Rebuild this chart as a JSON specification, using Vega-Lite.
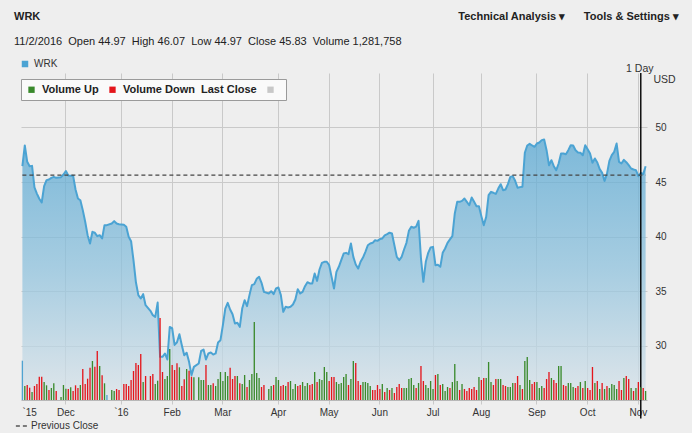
{
  "$schema": "https://vega.github.io/schema/vega-lite/v6.json",
  "autosize": {"type": "none"},
  "width": 626,
  "height": 327,
  "padding": {"left": 21, "top": 73, "right": 45, "bottom": 33},
  "background": "#eeeeee",
  "config": {"font": "Liberation Sans", "view": {"stroke": null}},
  "title": {
    "text": "WRK\u2003\u2003\u2003\u2003\u2003\u2003\u2003\u2003\u2003\u2003\u2003\u2003\u2003\u2003\u2003\u2003\u2003\u2003\u2003\u2003\u2003\u2003\u2003\u2003\u2003\u2003\u2003\u2003\u2003\u2003\u2003\u2003\u2003\u2003\u2003\u2003\u2003\u2003Technical Analysis \u25BE\u2003\u2002\u2009Tools & Settings \u25BE",
    "subtitle": "11/2/2016\u00a0\u00a0Open 44.97\u00a0\u00a0High 46.07\u00a0\u00a0Low 44.97\u00a0\u00a0Close 45.83\u00a0\u00a0Volume 1,281,758",
    "anchor": "start",
    "frame": "group",
    "dx": -7,
    "offset": 12,
    "font": "Liberation Sans",
    "fontSize": 11,
    "fontWeight": "bold",
    "color": "#222222",
    "subtitleFont": "Liberation Sans",
    "subtitleFontSize": 11,
    "subtitleColor": "#222222",
    "subtitlePadding": 14
  },
  "data": {"values": [
    {"date":"2015-11-05","close":46.45,"volume":3.93,"dir":"Unchanged"},
    {"date":"2015-11-06","close":48.35,"volume":1.40,"dir":"Volume Up"},
    {"date":"2015-11-09","close":46.85,"volume":1.50,"dir":"Volume Down"},
    {"date":"2015-11-10","close":46.45,"volume":1.23,"dir":"Volume Down"},
    {"date":"2015-11-11","close":46.48,"volume":0.80,"dir":"Volume Up"},
    {"date":"2015-11-12","close":44.50,"volume":1.40,"dir":"Volume Down"},
    {"date":"2015-11-13","close":43.94,"volume":1.60,"dir":"Volume Down"},
    {"date":"2015-11-16","close":43.46,"volume":2.33,"dir":"Volume Down"},
    {"date":"2015-11-17","close":43.12,"volume":2.33,"dir":"Volume Down"},
    {"date":"2015-11-18","close":44.62,"volume":1.80,"dir":"Volume Up"},
    {"date":"2015-11-19","close":45.17,"volume":1.47,"dir":"Volume Up"},
    {"date":"2015-11-20","close":45.23,"volume":1.00,"dir":"Volume Down"},
    {"date":"2015-11-23","close":45.38,"volume":1.20,"dir":"Volume Up"},
    {"date":"2015-11-24","close":45.47,"volume":1.67,"dir":"Volume Up"},
    {"date":"2015-11-25","close":45.38,"volume":0.90,"dir":"Volume Down"},
    {"date":"2015-11-27","close":45.44,"volume":0.30,"dir":"Volume Up"},
    {"date":"2015-11-30","close":45.69,"volume":1.50,"dir":"Volume Up"},
    {"date":"2015-12-01","close":46.00,"volume":1.13,"dir":"Volume Up"},
    {"date":"2015-12-02","close":45.60,"volume":1.10,"dir":"Volume Down"},
    {"date":"2015-12-03","close":45.57,"volume":1.27,"dir":"Volume Up"},
    {"date":"2015-12-04","close":45.57,"volume":0.90,"dir":"Volume Down"},
    {"date":"2015-12-07","close":44.31,"volume":1.47,"dir":"Volume Down"},
    {"date":"2015-12-08","close":43.49,"volume":1.20,"dir":"Volume Down"},
    {"date":"2015-12-09","close":43.33,"volume":1.50,"dir":"Volume Up"},
    {"date":"2015-12-10","close":42.42,"volume":3.10,"dir":"Volume Down"},
    {"date":"2015-12-11","close":41.35,"volume":1.60,"dir":"Volume Down"},
    {"date":"2015-12-14","close":40.12,"volume":2.13,"dir":"Volume Down"},
    {"date":"2015-12-15","close":39.36,"volume":3.23,"dir":"Volume Down"},
    {"date":"2015-12-16","close":40.43,"volume":3.90,"dir":"Volume Up"},
    {"date":"2015-12-17","close":40.34,"volume":3.33,"dir":"Volume Down"},
    {"date":"2015-12-18","close":40.03,"volume":4.90,"dir":"Volume Down"},
    {"date":"2015-12-21","close":40.12,"volume":3.40,"dir":"Volume Up"},
    {"date":"2015-12-22","close":39.82,"volume":2.47,"dir":"Volume Down"},
    {"date":"2015-12-23","close":41.04,"volume":1.67,"dir":"Volume Up"},
    {"date":"2015-12-24","close":41.04,"volume":0.50,"dir":"Unchanged"},
    {"date":"2015-12-28","close":41.19,"volume":1.00,"dir":"Volume Up"},
    {"date":"2015-12-29","close":41.41,"volume":0.90,"dir":"Volume Up"},
    {"date":"2015-12-30","close":41.19,"volume":1.10,"dir":"Volume Down"},
    {"date":"2015-12-31","close":41.13,"volume":1.00,"dir":"Volume Down"},
    {"date":"2016-01-04","close":41.07,"volume":1.60,"dir":"Volume Down"},
    {"date":"2016-01-05","close":40.89,"volume":1.60,"dir":"Volume Down"},
    {"date":"2016-01-06","close":39.97,"volume":1.40,"dir":"Volume Down"},
    {"date":"2016-01-07","close":39.57,"volume":2.00,"dir":"Volume Down"},
    {"date":"2016-01-08","close":37.80,"volume":2.90,"dir":"Volume Down"},
    {"date":"2016-01-11","close":35.80,"volume":3.70,"dir":"Volume Down"},
    {"date":"2016-01-12","close":34.62,"volume":3.50,"dir":"Volume Down"},
    {"date":"2016-01-13","close":34.31,"volume":4.60,"dir":"Volume Down"},
    {"date":"2016-01-14","close":34.71,"volume":1.80,"dir":"Volume Up"},
    {"date":"2016-01-15","close":33.70,"volume":2.40,"dir":"Volume Down"},
    {"date":"2016-01-19","close":33.18,"volume":2.40,"dir":"Volume Down"},
    {"date":"2016-01-20","close":32.78,"volume":2.60,"dir":"Volume Down"},
    {"date":"2016-01-21","close":32.63,"volume":1.60,"dir":"Volume Up"},
    {"date":"2016-01-22","close":33.94,"volume":1.93,"dir":"Volume Up"},
    {"date":"2016-01-25","close":28.96,"volume":8.20,"dir":"Volume Down"},
    {"date":"2016-01-26","close":28.96,"volume":2.80,"dir":"Volume Down"},
    {"date":"2016-01-27","close":29.27,"volume":2.10,"dir":"Volume Up"},
    {"date":"2016-01-28","close":28.72,"volume":2.40,"dir":"Volume Up"},
    {"date":"2016-01-29","close":31.70,"volume":5.10,"dir":"Volume Up"},
    {"date":"2016-02-01","close":31.60,"volume":3.50,"dir":"Volume Down"},
    {"date":"2016-02-02","close":30.05,"volume":3.00,"dir":"Volume Down"},
    {"date":"2016-02-03","close":30.30,"volume":3.67,"dir":"Volume Down"},
    {"date":"2016-02-04","close":31.04,"volume":3.27,"dir":"Volume Up"},
    {"date":"2016-02-05","close":30.03,"volume":1.40,"dir":"Volume Down"},
    {"date":"2016-02-08","close":29.11,"volume":2.07,"dir":"Volume Down"},
    {"date":"2016-02-09","close":29.33,"volume":3.10,"dir":"Volume Up"},
    {"date":"2016-02-10","close":28.50,"volume":2.93,"dir":"Volume Down"},
    {"date":"2016-02-11","close":27.28,"volume":2.33,"dir":"Volume Down"},
    {"date":"2016-02-12","close":28.04,"volume":2.27,"dir":"Volume Up"},
    {"date":"2016-02-16","close":28.35,"volume":2.27,"dir":"Volume Up"},
    {"date":"2016-02-17","close":29.51,"volume":2.00,"dir":"Volume Up"},
    {"date":"2016-02-18","close":29.63,"volume":2.00,"dir":"Volume Up"},
    {"date":"2016-02-19","close":28.72,"volume":3.50,"dir":"Volume Down"},
    {"date":"2016-02-22","close":29.27,"volume":1.50,"dir":"Volume Up"},
    {"date":"2016-02-23","close":29.36,"volume":1.50,"dir":"Volume Up"},
    {"date":"2016-02-24","close":29.17,"volume":1.67,"dir":"Volume Down"},
    {"date":"2016-02-25","close":29.27,"volume":1.40,"dir":"Volume Up"},
    {"date":"2016-02-26","close":30.28,"volume":2.10,"dir":"Volume Up"},
    {"date":"2016-02-29","close":30.49,"volume":2.80,"dir":"Volume Up"},
    {"date":"2016-03-01","close":31.87,"volume":1.90,"dir":"Volume Up"},
    {"date":"2016-03-02","close":33.39,"volume":2.80,"dir":"Volume Up"},
    {"date":"2016-03-03","close":33.91,"volume":2.40,"dir":"Volume Up"},
    {"date":"2016-03-04","close":33.30,"volume":3.23,"dir":"Volume Down"},
    {"date":"2016-03-07","close":32.87,"volume":2.10,"dir":"Volume Down"},
    {"date":"2016-03-08","close":32.02,"volume":2.40,"dir":"Volume Down"},
    {"date":"2016-03-09","close":32.08,"volume":2.40,"dir":"Volume Up"},
    {"date":"2016-03-10","close":31.71,"volume":1.67,"dir":"Volume Down"},
    {"date":"2016-03-11","close":33.39,"volume":1.60,"dir":"Volume Up"},
    {"date":"2016-03-14","close":34.16,"volume":2.50,"dir":"Volume Up"},
    {"date":"2016-03-15","close":33.61,"volume":1.30,"dir":"Volume Down"},
    {"date":"2016-03-16","close":34.62,"volume":2.00,"dir":"Volume Up"},
    {"date":"2016-03-17","close":35.54,"volume":2.60,"dir":"Volume Up"},
    {"date":"2016-03-18","close":35.63,"volume":7.80,"dir":"Volume Up"},
    {"date":"2016-03-21","close":36.12,"volume":2.70,"dir":"Volume Up"},
    {"date":"2016-03-22","close":36.30,"volume":2.20,"dir":"Volume Up"},
    {"date":"2016-03-23","close":35.75,"volume":1.30,"dir":"Volume Down"},
    {"date":"2016-03-24","close":34.92,"volume":1.50,"dir":"Volume Down"},
    {"date":"2016-03-28","close":34.77,"volume":1.10,"dir":"Volume Up"},
    {"date":"2016-03-29","close":34.98,"volume":1.40,"dir":"Volume Up"},
    {"date":"2016-03-30","close":34.71,"volume":1.50,"dir":"Volume Down"},
    {"date":"2016-03-31","close":35.23,"volume":2.30,"dir":"Volume Up"},
    {"date":"2016-04-01","close":35.32,"volume":2.00,"dir":"Volume Up"},
    {"date":"2016-04-04","close":34.62,"volume":1.40,"dir":"Volume Down"},
    {"date":"2016-04-05","close":33.09,"volume":1.50,"dir":"Volume Down"},
    {"date":"2016-04-06","close":33.55,"volume":1.40,"dir":"Volume Up"},
    {"date":"2016-04-07","close":33.49,"volume":1.80,"dir":"Volume Down"},
    {"date":"2016-04-08","close":33.55,"volume":1.90,"dir":"Volume Up"},
    {"date":"2016-04-11","close":33.76,"volume":1.10,"dir":"Volume Up"},
    {"date":"2016-04-12","close":34.22,"volume":1.60,"dir":"Volume Up"},
    {"date":"2016-04-13","close":35.17,"volume":1.40,"dir":"Volume Down"},
    {"date":"2016-04-14","close":34.77,"volume":1.50,"dir":"Volume Down"},
    {"date":"2016-04-15","close":34.92,"volume":1.80,"dir":"Volume Up"},
    {"date":"2016-04-18","close":35.44,"volume":1.40,"dir":"Volume Up"},
    {"date":"2016-04-19","close":35.81,"volume":1.70,"dir":"Volume Up"},
    {"date":"2016-04-20","close":35.69,"volume":1.50,"dir":"Volume Down"},
    {"date":"2016-04-21","close":35.69,"volume":1.60,"dir":"Volume Down"},
    {"date":"2016-04-22","close":36.61,"volume":2.80,"dir":"Volume Up"},
    {"date":"2016-04-25","close":35.93,"volume":1.80,"dir":"Volume Down"},
    {"date":"2016-04-26","close":36.97,"volume":2.10,"dir":"Volume Up"},
    {"date":"2016-04-27","close":37.58,"volume":2.00,"dir":"Volume Up"},
    {"date":"2016-04-28","close":37.68,"volume":3.30,"dir":"Volume Up"},
    {"date":"2016-04-29","close":37.68,"volume":2.80,"dir":"Volume Up"},
    {"date":"2016-05-02","close":37.37,"volume":1.90,"dir":"Volume Down"},
    {"date":"2016-05-03","close":36.30,"volume":2.30,"dir":"Volume Down"},
    {"date":"2016-05-04","close":35.23,"volume":2.30,"dir":"Volume Down"},
    {"date":"2016-05-05","close":36.76,"volume":1.80,"dir":"Volume Up"},
    {"date":"2016-05-06","close":37.22,"volume":1.60,"dir":"Volume Up"},
    {"date":"2016-05-09","close":37.83,"volume":1.70,"dir":"Volume Up"},
    {"date":"2016-05-10","close":38.44,"volume":2.30,"dir":"Volume Up"},
    {"date":"2016-05-11","close":38.50,"volume":2.60,"dir":"Volume Up"},
    {"date":"2016-05-12","close":38.38,"volume":1.50,"dir":"Volume Down"},
    {"date":"2016-05-13","close":39.36,"volume":2.10,"dir":"Volume Up"},
    {"date":"2016-05-16","close":38.13,"volume":3.90,"dir":"Volume Up"},
    {"date":"2016-05-17","close":37.43,"volume":3.70,"dir":"Volume Down"},
    {"date":"2016-05-18","close":37.06,"volume":1.90,"dir":"Volume Down"},
    {"date":"2016-05-19","close":37.68,"volume":1.50,"dir":"Volume Down"},
    {"date":"2016-05-20","close":38.07,"volume":1.80,"dir":"Volume Up"},
    {"date":"2016-05-23","close":38.59,"volume":1.80,"dir":"Volume Up"},
    {"date":"2016-05-24","close":39.20,"volume":1.70,"dir":"Volume Up"},
    {"date":"2016-05-25","close":39.36,"volume":1.40,"dir":"Volume Up"},
    {"date":"2016-05-26","close":39.42,"volume":1.00,"dir":"Volume Down"},
    {"date":"2016-05-27","close":39.66,"volume":1.00,"dir":"Volume Down"},
    {"date":"2016-05-31","close":39.60,"volume":1.50,"dir":"Volume Down"},
    {"date":"2016-06-01","close":39.76,"volume":1.10,"dir":"Volume Down"},
    {"date":"2016-06-02","close":39.82,"volume":1.60,"dir":"Volume Up"},
    {"date":"2016-06-03","close":40.10,"volume":0.80,"dir":"Volume Down"},
    {"date":"2016-06-06","close":40.21,"volume":1.20,"dir":"Volume Up"},
    {"date":"2016-06-07","close":40.35,"volume":1.00,"dir":"Volume Down"},
    {"date":"2016-06-08","close":40.28,"volume":1.20,"dir":"Volume Up"},
    {"date":"2016-06-09","close":39.20,"volume":0.70,"dir":"Volume Down"},
    {"date":"2016-06-10","close":38.13,"volume":1.30,"dir":"Volume Down"},
    {"date":"2016-06-13","close":37.83,"volume":1.60,"dir":"Volume Down"},
    {"date":"2016-06-14","close":38.13,"volume":1.20,"dir":"Volume Down"},
    {"date":"2016-06-15","close":38.81,"volume":1.20,"dir":"Volume Up"},
    {"date":"2016-06-16","close":39.42,"volume":1.20,"dir":"Volume Up"},
    {"date":"2016-06-17","close":40.52,"volume":2.10,"dir":"Volume Up"},
    {"date":"2016-06-20","close":40.89,"volume":2.20,"dir":"Volume Up"},
    {"date":"2016-06-21","close":40.80,"volume":1.50,"dir":"Volume Up"},
    {"date":"2016-06-22","close":40.90,"volume":1.20,"dir":"Volume Down"},
    {"date":"2016-06-23","close":41.44,"volume":1.70,"dir":"Volume Up"},
    {"date":"2016-06-24","close":38.00,"volume":3.40,"dir":"Volume Down"},
    {"date":"2016-06-27","close":35.84,"volume":1.90,"dir":"Volume Down"},
    {"date":"2016-06-28","close":37.68,"volume":1.50,"dir":"Volume Up"},
    {"date":"2016-06-29","close":38.50,"volume":1.20,"dir":"Volume Up"},
    {"date":"2016-06-30","close":38.99,"volume":1.90,"dir":"Volume Up"},
    {"date":"2016-07-01","close":39.05,"volume":1.10,"dir":"Volume Up"},
    {"date":"2016-07-05","close":37.37,"volume":2.50,"dir":"Volume Down"},
    {"date":"2016-07-06","close":37.40,"volume":2.60,"dir":"Volume Up"},
    {"date":"2016-07-07","close":37.22,"volume":1.50,"dir":"Volume Down"},
    {"date":"2016-07-08","close":38.50,"volume":1.60,"dir":"Volume Up"},
    {"date":"2016-07-11","close":38.90,"volume":0.90,"dir":"Volume Up"},
    {"date":"2016-07-12","close":39.42,"volume":1.30,"dir":"Volume Up"},
    {"date":"2016-07-13","close":39.73,"volume":1.20,"dir":"Volume Down"},
    {"date":"2016-07-14","close":40.03,"volume":1.80,"dir":"Volume Up"},
    {"date":"2016-07-15","close":42.11,"volume":3.60,"dir":"Volume Up"},
    {"date":"2016-07-18","close":43.18,"volume":1.90,"dir":"Volume Up"},
    {"date":"2016-07-19","close":43.18,"volume":1.00,"dir":"Volume Down"},
    {"date":"2016-07-20","close":43.27,"volume":1.60,"dir":"Volume Up"},
    {"date":"2016-07-21","close":43.49,"volume":1.10,"dir":"Volume Down"},
    {"date":"2016-07-22","close":43.18,"volume":0.90,"dir":"Volume Down"},
    {"date":"2016-07-25","close":42.87,"volume":1.20,"dir":"Volume Down"},
    {"date":"2016-07-26","close":43.58,"volume":1.10,"dir":"Volume Down"},
    {"date":"2016-07-27","close":43.18,"volume":1.30,"dir":"Volume Down"},
    {"date":"2016-07-28","close":42.78,"volume":1.00,"dir":"Volume Down"},
    {"date":"2016-07-29","close":42.78,"volume":2.30,"dir":"Volume Up"},
    {"date":"2016-08-01","close":41.87,"volume":2.00,"dir":"Volume Down"},
    {"date":"2016-08-02","close":41.04,"volume":2.20,"dir":"Volume Down"},
    {"date":"2016-08-03","close":41.80,"volume":2.20,"dir":"Volume Up"},
    {"date":"2016-08-04","close":43.80,"volume":3.80,"dir":"Volume Up"},
    {"date":"2016-08-05","close":44.10,"volume":1.80,"dir":"Volume Up"},
    {"date":"2016-08-08","close":44.01,"volume":1.50,"dir":"Volume Down"},
    {"date":"2016-08-09","close":43.91,"volume":2.10,"dir":"Volume Down"},
    {"date":"2016-08-10","close":44.40,"volume":2.10,"dir":"Volume Up"},
    {"date":"2016-08-11","close":44.80,"volume":2.10,"dir":"Volume Up"},
    {"date":"2016-08-12","close":44.25,"volume":1.50,"dir":"Volume Down"},
    {"date":"2016-08-15","close":44.31,"volume":1.40,"dir":"Volume Down"},
    {"date":"2016-08-16","close":44.80,"volume":1.30,"dir":"Volume Up"},
    {"date":"2016-08-17","close":45.47,"volume":1.30,"dir":"Volume Up"},
    {"date":"2016-08-18","close":45.53,"volume":1.70,"dir":"Volume Up"},
    {"date":"2016-08-19","close":45.11,"volume":1.70,"dir":"Volume Down"},
    {"date":"2016-08-22","close":44.47,"volume":2.40,"dir":"Volume Down"},
    {"date":"2016-08-23","close":44.53,"volume":1.50,"dir":"Volume Up"},
    {"date":"2016-08-24","close":44.56,"volume":1.10,"dir":"Volume Down"},
    {"date":"2016-08-25","close":47.68,"volume":3.90,"dir":"Volume Up"},
    {"date":"2016-08-26","close":48.35,"volume":4.30,"dir":"Volume Up"},
    {"date":"2016-08-29","close":48.50,"volume":2.00,"dir":"Volume Up"},
    {"date":"2016-08-30","close":48.35,"volume":1.60,"dir":"Volume Down"},
    {"date":"2016-08-31","close":48.23,"volume":1.80,"dir":"Volume Down"},
    {"date":"2016-09-01","close":48.53,"volume":1.80,"dir":"Volume Up"},
    {"date":"2016-09-02","close":48.62,"volume":1.20,"dir":"Volume Up"},
    {"date":"2016-09-06","close":48.84,"volume":1.40,"dir":"Volume Up"},
    {"date":"2016-09-07","close":48.90,"volume":1.20,"dir":"Volume Down"},
    {"date":"2016-09-08","close":47.92,"volume":2.10,"dir":"Volume Down"},
    {"date":"2016-09-09","close":46.54,"volume":2.80,"dir":"Volume Down"},
    {"date":"2016-09-12","close":47.00,"volume":2.20,"dir":"Volume Up"},
    {"date":"2016-09-13","close":46.45,"volume":2.00,"dir":"Volume Down"},
    {"date":"2016-09-14","close":46.09,"volume":1.70,"dir":"Volume Down"},
    {"date":"2016-09-15","close":46.70,"volume":3.40,"dir":"Volume Up"},
    {"date":"2016-09-16","close":47.61,"volume":3.40,"dir":"Volume Up"},
    {"date":"2016-09-19","close":47.61,"volume":1.50,"dir":"Volume Down"},
    {"date":"2016-09-20","close":47.55,"volume":1.40,"dir":"Volume Down"},
    {"date":"2016-09-21","close":47.92,"volume":1.70,"dir":"Volume Up"},
    {"date":"2016-09-22","close":48.38,"volume":1.70,"dir":"Volume Up"},
    {"date":"2016-09-23","close":48.35,"volume":1.30,"dir":"Volume Up"},
    {"date":"2016-09-26","close":47.92,"volume":1.20,"dir":"Volume Down"},
    {"date":"2016-09-27","close":47.71,"volume":1.40,"dir":"Volume Down"},
    {"date":"2016-09-28","close":47.68,"volume":1.80,"dir":"Volume Up"},
    {"date":"2016-09-29","close":47.46,"volume":1.20,"dir":"Volume Down"},
    {"date":"2016-09-30","close":48.38,"volume":1.90,"dir":"Volume Up"},
    {"date":"2016-10-03","close":48.01,"volume":1.20,"dir":"Volume Down"},
    {"date":"2016-10-04","close":47.61,"volume":1.00,"dir":"Volume Down"},
    {"date":"2016-10-05","close":46.76,"volume":3.30,"dir":"Volume Down"},
    {"date":"2016-10-06","close":47.16,"volume":1.70,"dir":"Volume Up"},
    {"date":"2016-10-07","close":46.79,"volume":1.90,"dir":"Volume Down"},
    {"date":"2016-10-10","close":46.18,"volume":1.10,"dir":"Volume Up"},
    {"date":"2016-10-11","close":45.84,"volume":1.70,"dir":"Volume Down"},
    {"date":"2016-10-12","close":45.10,"volume":1.10,"dir":"Volume Up"},
    {"date":"2016-10-13","close":45.75,"volume":1.40,"dir":"Volume Down"},
    {"date":"2016-10-14","close":46.94,"volume":1.20,"dir":"Volume Up"},
    {"date":"2016-10-17","close":47.46,"volume":1.60,"dir":"Volume Up"},
    {"date":"2016-10-18","close":47.77,"volume":1.50,"dir":"Volume Up"},
    {"date":"2016-10-19","close":48.53,"volume":1.10,"dir":"Volume Up"},
    {"date":"2016-10-20","close":46.85,"volume":1.90,"dir":"Volume Down"},
    {"date":"2016-10-21","close":46.70,"volume":1.00,"dir":"Volume Down"},
    {"date":"2016-10-24","close":47.03,"volume":2.20,"dir":"Volume Up"},
    {"date":"2016-10-25","close":46.82,"volume":2.40,"dir":"Volume Down"},
    {"date":"2016-10-26","close":46.54,"volume":2.10,"dir":"Volume Down"},
    {"date":"2016-10-27","close":46.24,"volume":1.20,"dir":"Volume Up"},
    {"date":"2016-10-28","close":46.15,"volume":0.90,"dir":"Volume Down"},
    {"date":"2016-10-31","close":46.09,"volume":1.20,"dir":"Volume Up"},
    {"date":"2016-11-01","close":45.53,"volume":1.80,"dir":"Volume Down"},
    {"date":"2016-11-02","close":45.83,"volume":1.28,"dir":"Volume Up"},
    {"date":"2016-11-03","close":45.72,"volume":1.20,"dir":"Volume Down"},
    {"date":"2016-11-04","close":46.45,"volume":0.90,"dir":"Volume Up"}
  ]},
  "encoding": {
    "x": {
      "field": "date",
      "type": "ordinal",
      "title": null,
      "scale": {
        "paddingInner": 0.45,
        "paddingOuter": 0.3,
        "domain": ["2015-11-05","2015-11-06","2015-11-09","2015-11-10","2015-11-11","2015-11-12","2015-11-13","2015-11-16","2015-11-17","2015-11-18","2015-11-19","2015-11-20","2015-11-23","2015-11-24","2015-11-25","2015-11-26","2015-11-27","2015-11-30","2015-12-01","2015-12-02","2015-12-03","2015-12-04","2015-12-07","2015-12-08","2015-12-09","2015-12-10","2015-12-11","2015-12-14","2015-12-15","2015-12-16","2015-12-17","2015-12-18","2015-12-21","2015-12-22","2015-12-23","2015-12-24","2015-12-25","2015-12-28","2015-12-29","2015-12-30","2015-12-31","2016-01-01","2016-01-04","2016-01-05","2016-01-06","2016-01-07","2016-01-08","2016-01-11","2016-01-12","2016-01-13","2016-01-14","2016-01-15","2016-01-18","2016-01-19","2016-01-20","2016-01-21","2016-01-22","2016-01-25","2016-01-26","2016-01-27","2016-01-28","2016-01-29","2016-02-01","2016-02-02","2016-02-03","2016-02-04","2016-02-05","2016-02-08","2016-02-09","2016-02-10","2016-02-11","2016-02-12","2016-02-15","2016-02-16","2016-02-17","2016-02-18","2016-02-19","2016-02-22","2016-02-23","2016-02-24","2016-02-25","2016-02-26","2016-02-29","2016-03-01","2016-03-02","2016-03-03","2016-03-04","2016-03-07","2016-03-08","2016-03-09","2016-03-10","2016-03-11","2016-03-14","2016-03-15","2016-03-16","2016-03-17","2016-03-18","2016-03-21","2016-03-22","2016-03-23","2016-03-24","2016-03-25","2016-03-28","2016-03-29","2016-03-30","2016-03-31","2016-04-01","2016-04-04","2016-04-05","2016-04-06","2016-04-07","2016-04-08","2016-04-11","2016-04-12","2016-04-13","2016-04-14","2016-04-15","2016-04-18","2016-04-19","2016-04-20","2016-04-21","2016-04-22","2016-04-25","2016-04-26","2016-04-27","2016-04-28","2016-04-29","2016-05-02","2016-05-03","2016-05-04","2016-05-05","2016-05-06","2016-05-09","2016-05-10","2016-05-11","2016-05-12","2016-05-13","2016-05-16","2016-05-17","2016-05-18","2016-05-19","2016-05-20","2016-05-23","2016-05-24","2016-05-25","2016-05-26","2016-05-27","2016-05-31","2016-06-01","2016-06-02","2016-06-03","2016-06-06","2016-06-07","2016-06-08","2016-06-09","2016-06-10","2016-06-13","2016-06-14","2016-06-15","2016-06-16","2016-06-17","2016-06-20","2016-06-21","2016-06-22","2016-06-23","2016-06-24","2016-06-27","2016-06-28","2016-06-29","2016-06-30","2016-07-01","2016-07-05","2016-07-06","2016-07-07","2016-07-08","2016-07-11","2016-07-12","2016-07-13","2016-07-14","2016-07-15","2016-07-18","2016-07-19","2016-07-20","2016-07-21","2016-07-22","2016-07-25","2016-07-26","2016-07-27","2016-07-28","2016-07-29","2016-08-01","2016-08-02","2016-08-03","2016-08-04","2016-08-05","2016-08-08","2016-08-09","2016-08-10","2016-08-11","2016-08-12","2016-08-15","2016-08-16","2016-08-17","2016-08-18","2016-08-19","2016-08-22","2016-08-23","2016-08-24","2016-08-25","2016-08-26","2016-08-29","2016-08-30","2016-08-31","2016-09-01","2016-09-02","2016-09-06","2016-09-07","2016-09-08","2016-09-09","2016-09-12","2016-09-13","2016-09-14","2016-09-15","2016-09-16","2016-09-19","2016-09-20","2016-09-21","2016-09-22","2016-09-23","2016-09-26","2016-09-27","2016-09-28","2016-09-29","2016-09-30","2016-10-03","2016-10-04","2016-10-05","2016-10-06","2016-10-07","2016-10-10","2016-10-11","2016-10-12","2016-10-13","2016-10-14","2016-10-17","2016-10-18","2016-10-19","2016-10-20","2016-10-21","2016-10-24","2016-10-25","2016-10-26","2016-10-27","2016-10-28","2016-10-31","2016-11-01","2016-11-02","2016-11-03","2016-11-04"]
      },
      "axis": {
        "values": ["2015-11-05","2015-12-01","2016-01-01","2016-02-01","2016-03-01","2016-04-01","2016-05-02","2016-06-01","2016-07-01","2016-08-01","2016-09-01","2016-10-03","2016-11-01"],
        "labelExpr": "datum.value == '2015-11-05' ? '`15' : (datum.value == '2016-01-01' ? '`16' : ['Jan','Feb','Mar','Apr','May','Jun','Jul','Aug','Sep','Oct','Nov','Dec'][toNumber(slice(datum.value, 5, 7)) - 1])",
        "labelAngle": 0,
        "labelAlign": {"condition": {"test": "datum.value == '2015-11-05'", "value": "left"}, "value": "center"},
        "labelFontSize": 10,
        "labelColor": "#333333",
        "labelPadding": 3,
        "labelOverlap": false,
        "grid": true,
        "gridColor": {"condition": {"test": "datum.value == '2015-11-05'", "value": "transparent"}, "value": "#c9c9c9"},
        "gridWidth": 1,
        "ticks": true,
        "tickSize": 4,
        "tickColor": {"condition": {"test": "datum.value == '2015-11-05'", "value": "transparent"}, "value": "#c9c9c9"},
        "domain": true,
        "domainColor": "#b8b8b8"
      }
    }
  },
  "resolve": {"scale": {"y": "independent"}},
  "layer": [
    {
      "layer": [
        {
          "mark": {
            "type": "area",
            "opacity": 0.75,
            "color": {
              "gradient": "linear",
              "x1": 1, "y1": 0, "x2": 1, "y2": 1,
              "stops": [
                {"offset": 0, "color": "#57a7d2"},
                {"offset": 0.5, "color": "#8fc2dd"},
                {"offset": 1, "color": "#dae3e9"}
              ]
            }
          },
          "encoding": {
            "y": {
              "field": "close",
              "type": "quantitative",
              "scale": {"domain": [25, 55], "zero": false, "nice": false},
              "axis": {
                "orient": "right",
                "values": [30, 35, 40, 45, 50],
                "grid": true,
                "gridColor": "#c9c9c9",
                "ticks": false,
                "domain": false,
                "labelPadding": 8,
                "labelFontSize": 10,
                "labelColor": "#333333",
                "title": "USD",
                "titleAngle": 0,
                "titleAlign": "left",
                "titleBaseline": "alphabetic",
                "titleX": 6,
                "titleY": 9,
                "titleFontSize": 10.5,
                "titleFontWeight": "normal",
                "titleColor": "#333333"
              }
            },
            "y2": {"datum": 25}
          }
        },
        {
          "mark": {"type": "line", "strokeWidth": 2, "strokeJoin": "round"},
          "encoding": {
            "y": {"field": "close", "type": "quantitative", "scale": {"domain": [25, 55], "zero": false, "nice": false}},
            "stroke": {
              "datum": "WRK",
              "type": "nominal",
              "scale": {"range": ["#4ba3d3"]},
              "legend": {
                "orient": "none",
                "legendX": -1,
                "legendY": -14,
                "title": null,
                "symbolType": "square",
                "symbolSize": 20,
                "symbolStrokeWidth": 2,
                "symbolFillColor": "#4ba3d3",
                "labelFontSize": 10,
                "labelColor": "#333333",
                "labelOffset": 4,
                "padding": 0
              }
            }
          }
        },
        {
          "data": {"values": [{"date": "2016-11-02"}]},
          "mark": {"type": "rule", "color": "#000000", "strokeWidth": 1.4},
          "encoding": {
            "y": {"datum": 55, "type": "quantitative", "scale": {"domain": [25, 55], "zero": false, "nice": false}},
            "y2": {"datum": 23.3}
          }
        }
      ]
    },
    {
      "mark": {"type": "bar"},
      "encoding": {
        "y": {
          "field": "volume",
          "type": "quantitative",
          "scale": {"domain": [0, 32.7], "nice": false},
          "axis": {
            "orient": "left",
            "labels": false,
            "ticks": false,
            "domain": false,
            "grid": false,
            "title": "1 Day",
            "titleAngle": 0,
            "titleAlign": "right",
            "titleBaseline": "alphabetic",
            "titleX": 632,
            "titleY": -2,
            "titleFontSize": 10.5,
            "titleFontWeight": "normal",
            "titleColor": "#333333"
          }
        },
        "fill": {
          "field": "dir",
          "type": "nominal",
          "scale": {
            "domain": ["Volume Up", "Volume Down", "Hide", "Unchanged"],
            "range": ["#3a8a2c", "#e4161c", "#c8c8c8", "#4fa3d1"]
          },
          "legend": {
            "orient": "none",
            "legendX": 0,
            "legendY": 6,
            "direction": "horizontal",
            "title": null,
            "values": ["Volume Up", "Volume Down", "Hide"],
            "labelExpr": "datum.label == 'Hide' ? '' : (datum.label == 'Volume Down' ? 'Volume Down\u00a0\u00a0Last Close' : datum.label)",
            "symbolType": "square",
            "symbolSize": 40,
            "symbolStrokeWidth": 0,
            "labelFontSize": 11,
            "labelFontWeight": "bold",
            "labelColor": "#222222",
            "labelOffset": 5,
            "columnPadding": 8,
            "padding": 5,
            "strokeColor": "#9a9a9a",
            "fillColor": "#fafafa"
          }
        }
      }
    },
    {
      "data": {"values": [{"prev": 45.63}]},
      "mark": {"type": "rule", "color": "#444444", "strokeWidth": 1.3},
      "encoding": {
        "x": {"datum": "2015-11-05", "type": "ordinal", "title": null},
        "x2": {"datum": "2016-11-04"},
        "y": {"field": "prev", "type": "quantitative", "scale": {"domain": [25, 55], "zero": false, "nice": false}, "axis": null},
        "strokeDash": {
          "datum": "Previous Close",
          "type": "nominal",
          "scale": {"range": [[4, 3]]},
          "legend": {
            "orient": "none",
            "legendX": -6,
            "legendY": 346,
            "title": null,
            "symbolType": "stroke",
            "symbolSize": 150,
            "symbolStrokeWidth": 1.5,
            "symbolStrokeColor": "#555555",
            "labelFontSize": 10,
            "labelColor": "#333333",
            "labelOffset": 2,
            "padding": 0
          }
        }
      }
    }
  ]
}
